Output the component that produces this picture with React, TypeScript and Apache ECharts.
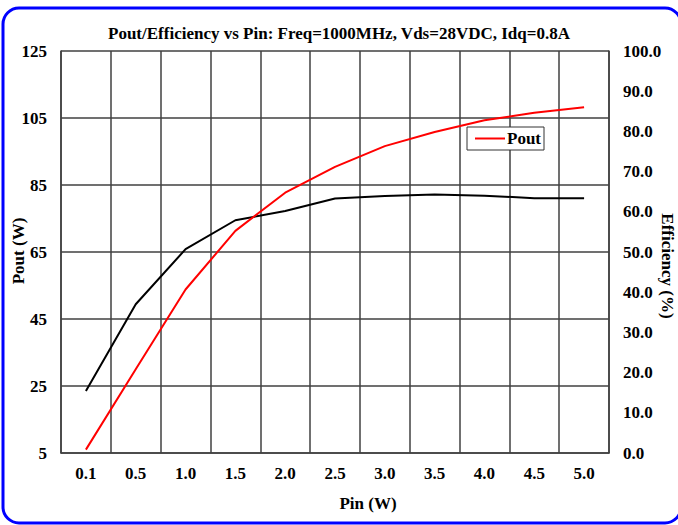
import React, { useEffect, useRef } from 'react';
import * as echarts from 'echarts';

const pinLabels = ['0.1', '0.5', '1.0', '1.5', '2.0', '2.5', '3.0', '3.5', '4.0', '4.5', '5.0'];
const poutValues = [6.0, 30.0, 53.8, 71.3, 82.7, 90.4, 96.6, 100.8, 104.3, 106.6, 108.2];
const effValues = [15.4, 37.0, 50.7, 57.9, 60.2, 63.3, 63.9, 64.3, 64.0, 63.4, 63.4];
const poutTickLabels = ['5', '25', '45', '65', '85', '105', '125'];
const effTickLabels = ['0.0', '10.0', '20.0', '30.0', '40.0', '50.0', '60.0', '70.0', '80.0', '90.0', '100.0'];

const titleText = 'Pout/Efficiency vs Pin: Freq=1000MHz, Vds=28VDC, Idq=0.8A';
const FONT = '"Liberation Serif", "Times New Roman", serif';
const FS = 17;

export default function App() {
  const ref = useRef<HTMLDivElement>(null);
  useEffect(() => {
    document.body.style.margin = '0';
    const chart = echarts.init(ref.current!, null, { renderer: 'svg' });
    const gridColor = '#404040';
    const lbl = { color: '#000', fontFamily: FONT, fontWeight: 'bold' as const, fontSize: FS };
    chart.setOption({
      animation: false,
      backgroundColor: '#fff',
      textStyle: { fontFamily: FONT },
      grid: { left: 61, right: 69, top: 51, bottom: 72, containLabel: false, outerBoundsMode: 'none' },
      legend: {
        data: ['Pout'],
        left: 467,
        top: 127,
        icon: 'rect',
        itemWidth: 30,
        itemHeight: 2,
        itemGap: 4,
        padding: [3, 3, 3, 8],
        borderColor: '#333',
        borderWidth: 1,
        backgroundColor: '#fff',
        textStyle: { ...lbl, padding: [0, 0, 0, -3] },
      },
      xAxis: {
        type: 'category',
        data: pinLabels,
        boundaryGap: true,
        axisLine: { lineStyle: { color: gridColor, width: 1.5 } },
        axisTick: { show: false },
        axisLabel: { ...lbl, margin: 12, interval: 0 },
        splitLine: { show: true, interval: 0, lineStyle: { color: gridColor, width: 1.5 } },
      },
      yAxis: [
        {
          type: 'value', min: 0, max: 120, interval: 20, position: 'left',
          axisLine: { show: true, lineStyle: { color: gridColor, width: 1.5 } },
          axisTick: { show: false },
          axisLabel: { ...lbl, margin: 14, formatter: (v: number) => poutTickLabels[Math.round(v / 20)] },
          splitLine: { show: true, lineStyle: { color: gridColor, width: 1.5 } },
        },
        {
          type: 'value', min: 0, max: 100, interval: 10, position: 'right',
          axisLine: { show: true, lineStyle: { color: gridColor, width: 1.5 } },
          axisTick: { show: false },
          axisLabel: { ...lbl, margin: 14, formatter: (v: number) => effTickLabels[Math.round(v / 10)] },
          splitLine: { show: false },
        },
        { type: 'value', min: 5, max: 125, position: 'left', show: false },
      ],
      series: [
        {
          name: 'Pout', type: 'line', data: poutValues, yAxisIndex: 2, symbol: 'none',
          lineStyle: { color: '#ff0000', width: 2 }, itemStyle: { color: '#ff0000' }, z: 3,
        },
        {
          name: 'Efficiency', type: 'line', data: effValues, yAxisIndex: 1, symbol: 'none',
          lineStyle: { color: '#000000', width: 2 }, itemStyle: { color: '#000000' }, z: 2,
        },
      ],
      graphic: [
        {
          type: 'text', x: 339, y: 33,
          style: { text: titleText, align: 'center', verticalAlign: 'middle', fontFamily: FONT, fontWeight: 'bold', fontSize: FS, fill: '#000' },
        },
        {
          type: 'text', x: 368, y: 503,
          style: { text: 'Pin (W)', align: 'center', verticalAlign: 'middle', fontFamily: FONT, fontWeight: 'bold', fontSize: FS, fill: '#000' },
        },
        {
          type: 'text', x: 18, y: 251, rotation: Math.PI / 2,
          style: { text: 'Pout (W)', align: 'center', verticalAlign: 'middle', fontFamily: FONT, fontWeight: 'bold', fontSize: FS, fill: '#000' },
        },
        {
          type: 'text', x: 667, y: 266, rotation: -Math.PI / 2,
          style: { text: 'Efficiency (%)', align: 'center', verticalAlign: 'middle', fontFamily: FONT, fontWeight: 'bold', fontSize: FS, fill: '#000' },
        },
        {
          type: 'rect', silent: true, z: 100,
          shape: { x: 3, y: 8, width: 678, height: 515, r: 16 },
          style: { fill: 'none', stroke: '#0000ff', lineWidth: 3 },
        },
      ],
    });
    return () => chart.dispose();
  }, []);
  return <div ref={ref} style={{ width: 678, height: 525 }} />;
}
